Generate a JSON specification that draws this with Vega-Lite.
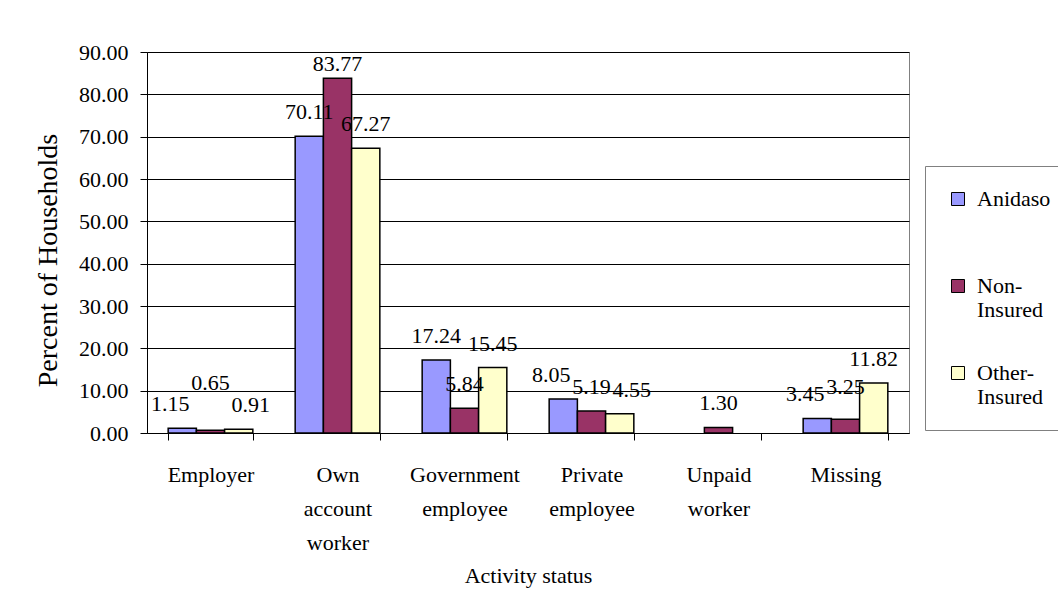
{
  "$schema": "https://vega.github.io/schema/vega-lite/v6.json",
  "width": 762,
  "height": 381,
  "autosize": {"type": "none"},
  "padding": {"left": 147, "top": 52, "right": 149, "bottom": 157},
  "background": "white",
  "config": {
    "font": "Liberation Serif",
    "view": {"stroke": "#808080", "strokeWidth": 1}
  },
  "data": {
    "values": [
      {"category": "Employer", "series": "Anidaso", "value": 1.15},
      {"category": "Employer", "series": "Non-Insured", "value": 0.65},
      {"category": "Employer", "series": "Other-Insured", "value": 0.91},
      {"category": "Own account worker", "series": "Anidaso", "value": 70.11},
      {"category": "Own account worker", "series": "Non-Insured", "value": 83.77},
      {"category": "Own account worker", "series": "Other-Insured", "value": 67.27},
      {"category": "Government employee", "series": "Anidaso", "value": 17.24},
      {"category": "Government employee", "series": "Non-Insured", "value": 5.84},
      {"category": "Government employee", "series": "Other-Insured", "value": 15.45},
      {"category": "Private employee", "series": "Anidaso", "value": 8.05},
      {"category": "Private employee", "series": "Non-Insured", "value": 5.19},
      {"category": "Private employee", "series": "Other-Insured", "value": 4.55},
      {"category": "Unpaid worker", "series": "Non-Insured", "value": 1.30},
      {"category": "Missing", "series": "Anidaso", "value": 3.45},
      {"category": "Missing", "series": "Non-Insured", "value": 3.25},
      {"category": "Missing", "series": "Other-Insured", "value": 11.82}
    ]
  },
  "encoding": {
    "x": {
      "field": "category",
      "type": "nominal",
      "sort": ["Employer", "Own account worker", "Government employee", "Private employee", "Unpaid worker", "Missing"],
      "scale": {"paddingInner": 0.3333, "paddingOuter": 0.1667},
      "axis": {
        "title": "Activity status",
        "labelAngle": 0,
        "labelExpr": "split(datum.label, ' ')",
        "labelFont": "Liberation Serif",
        "labelFontSize": 22,
        "labelLineHeight": 34,
        "labelBaseline": "alphabetic",
        "labelPadding": 41,
        "labelOverlap": false,
        "labelColor": "black",
        "tickSize": 7,
        "tickBand": "extent",
        "tickColor": "black",
        "domainColor": "black",
        "titleFont": "Liberation Serif",
        "titleFontSize": 22,
        "titleFontWeight": "normal",
        "titleColor": "black",
        "titleY": 142,
        "titleBaseline": "middle"
      }
    },
    "xOffset": {"field": "series", "sort": ["Anidaso", "Non-Insured", "Other-Insured"]},
    "y": {
      "field": "value",
      "type": "quantitative",
      "scale": {"domain": [0, 90], "nice": false},
      "axis": {
        "title": "Percent of Households",
        "values": [0, 10, 20, 30, 40, 50, 60, 70, 80, 90],
        "format": ".2f",
        "labelFont": "Liberation Serif",
        "labelFontSize": 22,
        "labelColor": "black",
        "labelPadding": 12,
        "tickSize": 7,
        "tickColor": "black",
        "domainColor": "black",
        "grid": true,
        "gridColor": "black",
        "gridOpacity": 1,
        "titleFont": "Liberation Serif",
        "titleFontSize": 28,
        "titleFontWeight": "normal",
        "titleColor": "black",
        "titleX": -99,
        "titleY": 208,
        "titleBaseline": "middle"
      }
    }
  },
  "layer": [
    {
      "mark": {"type": "bar", "stroke": "black", "strokeWidth": 1.5},
      "encoding": {
        "color": {
          "field": "series",
          "type": "nominal",
          "scale": {"domain": ["Anidaso", "Non-Insured", "Other-Insured"], "range": ["#9999FF", "#993366", "#FFFFCC"]},
          "legend": {
            "orient": "none",
            "legendX": 778,
            "legendY": 114,
            "title": null,
            "labelExpr": "datum.label == 'Non-Insured' ? ['Non-', 'Insured'] : datum.label == 'Other-Insured' ? ['Other-', 'Insured'] : [datum.label, '']",
            "labelFont": "Liberation Serif",
            "labelFontSize": 22,
            "labelLineHeight": 29,
            "labelBaseline": "alphabetic",
            "labelColor": "black",
            "labelOffset": 8,
            "symbolType": "square",
            "symbolSize": 169,
            "symbolStrokeColor": "black",
            "symbolStrokeWidth": 1,
            "symbolOpacity": 1,
            "strokeColor": "#808080",
            "fillColor": "white",
            "padding": 22,
            "rowPadding": 41,
            "encode": {"labels": {"update": {"dy": {"value": 7}}}}
          }
        }
      }
    },
    {
      "transform": [{"filter": "datum.value < 80 && !((datum.series == 'Anidaso' || datum.series == 'Other-Insured') && datum.value < 10) && !(datum.series == 'Non-Insured' && (datum.category == 'Employer' || datum.category == 'Missing'))"}],
      "mark": {"type": "text", "baseline": "alphabetic", "dy": -17, "fontSize": 22, "font": "Liberation Serif", "color": "black"},
      "encoding": {"text": {"field": "value", "type": "quantitative", "format": ".2f"}}
    },
    {
      "transform": [{"filter": "datum.value >= 80"}],
      "mark": {"type": "text", "baseline": "alphabetic", "dy": -7, "fontSize": 22, "font": "Liberation Serif", "color": "black"},
      "encoding": {"text": {"field": "value", "type": "quantitative", "format": ".2f"}}
    },
    {
      "transform": [{"filter": "datum.series == 'Anidaso' && datum.value < 10"}],
      "mark": {"type": "text", "baseline": "alphabetic", "dy": -17, "dx": -12, "fontSize": 22, "font": "Liberation Serif", "color": "black"},
      "encoding": {"text": {"field": "value", "type": "quantitative", "format": ".2f"}}
    },
    {
      "transform": [{"filter": "datum.series == 'Other-Insured' && datum.value < 10"}],
      "mark": {"type": "text", "baseline": "alphabetic", "dy": -17, "dx": 12, "fontSize": 22, "font": "Liberation Serif", "color": "black"},
      "encoding": {"text": {"field": "value", "type": "quantitative", "format": ".2f"}}
    },
    {
      "transform": [{"filter": "datum.series == 'Non-Insured' && datum.category == 'Employer'"}],
      "mark": {"type": "text", "baseline": "alphabetic", "dy": -40, "fontSize": 22, "font": "Liberation Serif", "color": "black"},
      "encoding": {"text": {"field": "value", "type": "quantitative", "format": ".2f"}}
    },
    {
      "transform": [{"filter": "datum.series == 'Non-Insured' && datum.category == 'Missing'"}],
      "mark": {"type": "text", "baseline": "alphabetic", "dy": -25, "fontSize": 22, "font": "Liberation Serif", "color": "black"},
      "encoding": {"text": {"field": "value", "type": "quantitative", "format": ".2f"}}
    }
  ]
}
